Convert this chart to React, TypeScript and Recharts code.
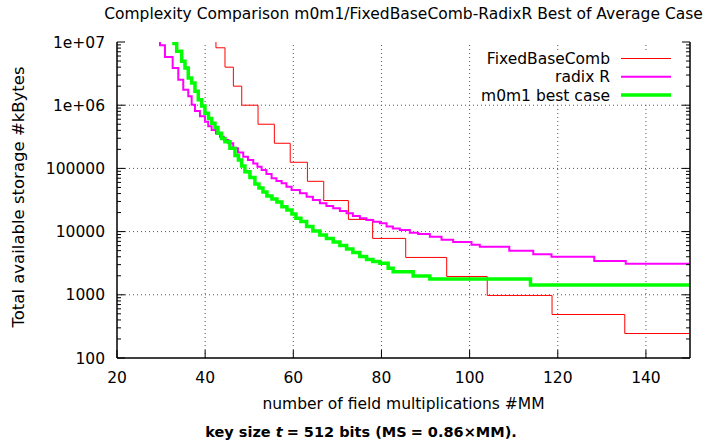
import React from 'react';
import { LineChart, Line, XAxis, YAxis, ReferenceLine } from 'recharts';

const FONT = '"DejaVu Sans", "Liberation Sans", sans-serif';
const FS = 15.5;

// ---- axis ticks / labels ----
const xTicks = [20, 40, 60, 80, 100, 120, 140];
const xGridValues = [40, 60, 80, 100, 120, 140];
const yMajorTicks = [100, 1000, 10000, 100000, 1000000, 10000000];
const yTickLabels = ['100', '1000', '10000', '100000', '1e+06', '1e+07'];
const yMinorTicks = [
  200, 300, 400, 500, 600, 700, 800, 900,
  2000, 3000, 4000, 5000, 6000, 7000, 8000, 9000,
  20000, 30000, 40000, 50000, 60000, 70000, 80000, 90000,
  200000, 300000, 400000, 500000, 600000, 700000, 800000, 900000,
  2000000, 3000000, 4000000, 5000000, 6000000, 7000000, 8000000, 9000000,
];
const yGridValues = [1000, 10000, 100000, 1000000];

const titleText = 'Complexity Comparison m0m1/FixedBaseComb-RadixR Best of Average Case';
const xLabelText = 'number of field multiplications #MM';
const yLabelText = 'Total available storage #kBytes';

// ---- series ----
const seriesNames = ['FixedBaseComb', 'radix R', 'm0m1 best case'];
const seriesColors = ['#ff0000', '#ff00ff', '#00ff00'];
const seriesWidths = [1, 2, 3.5];

const fixedX = [41, 42.45, 44.5, 46.4, 48.3, 52.0, 55.7, 59.3, 63.2, 66.9, 72.5, 78.0, 85.5, 94.8, 104.0, 118.7, 135.2, 150];
const fixedY = [3.2e7, 8.1e6, 4.0e6, 2.0e6, 1.0e6, 5.0e5, 2.5e5, 1.25e5, 6.25e4, 3.1e4, 1.56e4, 7.8e3, 3.9e3, 1.95e3, 977, 488, 244, 244];

const radixX = [29.0, 29.75, 30.88, 32.63, 33.90, 35.03, 36.17, 36.94, 37.69, 38.82, 39.95, 40.70, 41.47, 42.45, 43.36, 44.26, 45.24, 46.37, 47.44, 48.64, 49.71, 50.91, 51.86, 52.81, 53.90, 55.08, 56.17, 57.35, 58.44, 59.61, 61.50, 63.02, 64.44, 66.03, 67.51, 69.05, 70.57, 72.09, 73.51, 75.10, 76.58, 78.12, 79.64, 81.16, 82.59, 84.17, 86.44, 88.32, 90.98, 93.63, 96.26, 100.43, 102.31, 109.0, 114.44, 118.57, 128.28, 135.42, 150];
const radixY = [2e7, 8.87e6, 5.79e6, 3.88e6, 2.53e6, 1.76e6, 1.38e6, 1.02e6, 8.07e5, 6.67e5, 5.48e5, 4.64e5, 4.05e5, 3.57e5, 3.17e5, 2.81e5, 2.49e5, 2.08e5, 1.79e5, 1.53e5, 1.36e5, 1.20e5, 1.06e5, 9.44e4, 8.15e4, 6.97e4, 6.32e4, 5.81e4, 5.13e4, 4.55e4, 4.04e4, 3.57e4, 3.16e4, 2.80e4, 2.54e4, 2.34e4, 2.12e4, 1.95e4, 1.77e4, 1.62e4, 1.53e4, 1.43e4, 1.35e4, 1.20e4, 1.12e4, 1.06e4, 9.61e3, 9.16e3, 8.30e3, 7.44e3, 6.84e3, 6.21e3, 5.77e3, 4.99e3, 4.39e3, 4.01e3, 3.43e3, 3.10e3, 3.10e3];

const m0m1X = [32.0, 32.93, 33.54, 34.67, 35.42, 36.17, 36.94, 37.69, 38.44, 39.21, 39.95, 40.75, 41.47, 42.22, 42.90, 43.74, 44.49, 45.62, 46.76, 47.55, 48.28, 49.02, 50.16, 51.29, 52.20, 53.11, 54.01, 55.15, 56.28, 57.41, 58.55, 59.68, 60.59, 61.72, 63.02, 64.44, 66.03, 67.51, 69.05, 70.57, 72.09, 73.51, 75.10, 76.62, 78.05, 79.64, 81.52, 82.65, 87.19, 90.98, 113.81, 150];
const m0m1Y = [2e7, 9.5e6, 7.13e6, 4.95e6, 3.88e6, 2.69e6, 2.24e6, 1.66e6, 1.22e6, 9.71e5, 7.44e5, 6.16e5, 5.17e5, 4.44e5, 3.59e5, 2.97e5, 2.64e5, 2.08e5, 1.60e5, 1.36e5, 1.09e5, 8.87e4, 7.18e4, 5.66e4, 4.90e4, 4.23e4, 3.66e4, 3.28e4, 2.94e4, 2.48e4, 2.20e4, 1.90e4, 1.62e4, 1.45e4, 1.20e4, 1.02e4, 8.83e3, 7.78e3, 6.84e3, 6.02e3, 5.31e3, 4.67e3, 4.04e3, 3.62e3, 3.37e3, 3.15e3, 2.62e3, 2.32e3, 1.98e3, 1.78e3, 1.43e3, 1.43e3];

const zip = (xs: number[], ys: number[]) => xs.map((x, i) => ({ x, y: ys[i] }));
const seriesData = [zip(fixedX, fixedY), zip(radixX, radixY), zip(m0m1X, m0m1Y)];

const textStyle = { fontFamily: FONT, fontSize: FS, fill: '#000' };

function LeftTick(props: any) {
  const { x, y, payload } = props;
  const idx = yMajorTicks.indexOf(payload.value);
  const len = idx >= 0 ? 8 : 4;
  return (
    <g>
      <line x1={x} y1={y} x2={x + len} y2={y} stroke="#000" strokeWidth={1} />
      {idx >= 0 && (
        <text x={x - 12} y={y} dy="0.36em" textAnchor="end" style={textStyle}>
          {yTickLabels[idx]}
        </text>
      )}
    </g>
  );
}

function RightTick(props: any) {
  const { x, y, payload } = props;
  const len = yMajorTicks.indexOf(payload.value) >= 0 ? 8 : 4;
  return <line x1={x} y1={y} x2={x - len} y2={y} stroke="#000" strokeWidth={1} />;
}

function BottomTick(props: any) {
  const { x, y, payload } = props;
  return (
    <g>
      <line x1={x} y1={y} x2={x} y2={y - 8} stroke="#000" strokeWidth={1} />
      <text x={x} y={y + 25} textAnchor="middle" style={textStyle}>
        {payload.value}
      </text>
    </g>
  );
}

function TopTick(props: any) {
  const { x, y } = props;
  return <line x1={x} y1={y} x2={x} y2={y + 8} stroke="#000" strokeWidth={1} />;
}

const axisLine = { stroke: '#000', strokeWidth: 1.5 };
const yAllTicks = [...yMajorTicks, ...yMinorTicks];

export default function App() {
  return (
    <div style={{ position: 'absolute', left: 0, top: 0, width: 715, height: 442, background: '#fff' }}>
      <LineChart width={715} height={442} margin={{ top: 42, right: 0, bottom: 0, left: 0 }}>
        <XAxis
          dataKey="x"
          type="number"
          domain={[20, 150]}
          allowDataOverflow
          ticks={xTicks}
          interval={0}
          tickSize={0}
          tickMargin={0}
          tickLine={false}
          height={84}
          axisLine={axisLine}
          tick={<BottomTick />}
        />
        <XAxis
          xAxisId="top"
          orientation="top"
          dataKey="x"
          type="number"
          domain={[20, 150]}
          allowDataOverflow
          ticks={xTicks}
          interval={0}
          tickSize={0}
          tickMargin={0}
          tickLine={false}
          height={0}
          axisLine={axisLine}
          tick={<TopTick />}
        />
        <YAxis
          type="number"
          scale="log"
          domain={[100, 10000000]}
          allowDataOverflow
          ticks={yAllTicks}
          interval={0}
          tickSize={0}
          tickMargin={0}
          tickLine={false}
          width={117}
          axisLine={axisLine}
          tick={<LeftTick />}
        />
        <YAxis
          yAxisId="right"
          orientation="right"
          type="number"
          scale="log"
          domain={[100, 10000000]}
          allowDataOverflow
          ticks={yAllTicks}
          interval={0}
          tickSize={0}
          tickMargin={0}
          tickLine={false}
          width={25}
          axisLine={axisLine}
          tick={<RightTick />}
        />
        {yGridValues.map((v) => (
          <ReferenceLine key={'gy' + v} y={v} stroke="#555" strokeWidth={1} strokeDasharray="1 3" />
        ))}
        {xGridValues.map((v) => (
          <ReferenceLine key={'gx' + v} x={v} stroke="#555" strokeWidth={1} strokeDasharray="1 3" />
        ))}
        {seriesData.map((d, i) => (
          <Line
            key={seriesNames[i]}
            data={d}
            dataKey="y"
            name={seriesNames[i]}
            type="stepAfter"
            stroke={seriesColors[i]}
            strokeWidth={seriesWidths[i]}
            dot={false}
            activeDot={false}
            isAnimationActive={false}
          />
        ))}
      </LineChart>
      <svg
        width={715}
        height={442}
        style={{ position: 'absolute', left: 0, top: 0, pointerEvents: 'none' }}
      >
        <text x={403.5} y={19} textAnchor="middle" style={textStyle}>{titleText}</text>
        <text
          x={0}
          y={0}
          textAnchor="middle"
          transform="translate(24, 197) rotate(-90)"
          style={{ ...textStyle, fontSize: 16.5 }}
        >
          {yLabelText}
        </text>
        <text x={403.5} y={409} textAnchor="middle" style={textStyle}>{xLabelText}</text>
        <text x={361} y={437} textAnchor="middle" style={{ ...textStyle, fontSize: 14.5, fontWeight: 600 }}>
          <tspan>key size </tspan>
          <tspan fontStyle="italic">t</tspan>
          <tspan dx={4}>= 512 bits (MS</tspan>
          <tspan dx={4}>= 0.86×MM).</tspan>
        </text>
        <rect x={476} y={50} width={208} height={53} fill="#fff" />
        {seriesNames.map((n, i) => (
          <g key={'lg' + n}>
            <text x={610} y={58.5 + i * 18.3} dy="0.36em" textAnchor="end" style={textStyle}>{n}</text>
            <line
              x1={621}
              x2={671}
              y1={58.5 + i * 18.3}
              y2={58.5 + i * 18.3}
              stroke={seriesColors[i]}
              strokeWidth={seriesWidths[i]}
            />
          </g>
        ))}
      </svg>
    </div>
  );
}
